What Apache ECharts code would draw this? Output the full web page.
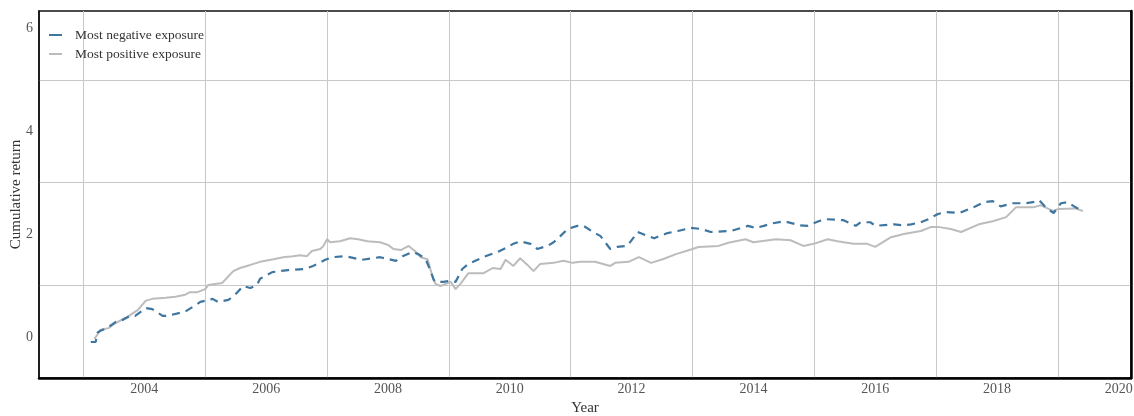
<!DOCTYPE html>
<html>
<head>
<meta charset="utf-8">
<script src="https://cdn.jsdelivr.net/npm/echarts@6/dist/echarts.min.js"></script>
<style>
html,body{margin:0;padding:0;background:#fff;}
#main{width:1134px;height:416px;}
</style>
</head>
<body>
<div id="main"></div>
<script>
// tick labels (even years / even values) and grid lines (odd ones)
var xLabelYears = [2004, 2006, 2008, 2010, 2012, 2014, 2016, 2018, 2020];
var xGridYears = [2003, 2005, 2007, 2009, 2011, 2013, 2015, 2017, 2019];
var yLabelValues = [0, 2, 4, 6];
var yGridValues = [1, 3, 5];

var seriesNames = ['Most negative exposure', 'Most positive exposure'];

// most negative exposure (blue dashed)
var negYears = [2003.12, 2003.20, 2003.23, 2003.28, 2003.39, 2003.53, 2003.64, 2003.77, 2003.85, 2004.02,
    2004.13, 2004.30, 2004.38, 2004.59, 2004.67, 2004.87, 2004.92, 2005.12, 2005.21, 2005.38,
    2005.49, 2005.62, 2005.74, 2005.85, 2005.90, 2006.10, 2006.36, 2006.64, 2006.77, 2006.97,
    2007.08, 2007.30, 2007.57, 2007.87, 2008.13, 2008.24, 2008.40, 2008.50, 2008.62, 2008.70,
    2008.75, 2008.78, 2008.91, 2009.03, 2009.11, 2009.22, 2009.32, 2009.49, 2009.60, 2009.80,
    2009.90, 2010.06, 2010.17, 2010.34, 2010.45, 2010.62, 2010.72, 2010.83, 2010.95, 2011.11,
    2011.21, 2011.37, 2011.49, 2011.65, 2011.76, 2011.93, 2012.10, 2012.23, 2012.37, 2012.59,
    2012.76, 2012.97, 2013.14, 2013.30, 2013.63, 2013.91, 2014.04, 2014.17, 2014.32, 2014.50,
    2014.77, 2014.89, 2015.07, 2015.18, 2015.48, 2015.68, 2015.76, 2015.92, 2016.00, 2016.31,
    2016.47, 2016.59, 2016.75, 2016.87, 2017.03, 2017.16, 2017.38, 2017.65, 2017.78, 2017.93,
    2018.06, 2018.26, 2018.47, 2018.59, 2018.69, 2018.80, 2018.93, 2019.05, 2019.16, 2019.29,
    2019.41];
var negValues = [-0.10, -0.10, 0.08, 0.12, 0.17, 0.29, 0.33, 0.41, 0.41, 0.56,
    0.54, 0.41, 0.41, 0.47, 0.49, 0.64, 0.68, 0.74, 0.68, 0.72,
    0.82, 0.99, 0.95, 1.01, 1.13, 1.26, 1.30, 1.32, 1.38, 1.50,
    1.55, 1.57, 1.50, 1.55, 1.48, 1.57, 1.65, 1.61, 1.51, 1.28,
    1.11, 1.07, 1.07, 1.09, 1.07, 1.32, 1.42, 1.51, 1.57, 1.65,
    1.71, 1.81, 1.86, 1.81, 1.71, 1.77, 1.84, 1.96, 2.10, 2.16,
    2.16, 2.04, 1.96, 1.71, 1.75, 1.77, 2.04, 1.98, 1.92, 2.02,
    2.06, 2.12, 2.10, 2.04, 2.06, 2.16, 2.12, 2.16, 2.21, 2.25,
    2.17, 2.16, 2.25, 2.29, 2.27, 2.16, 2.23, 2.23, 2.16, 2.19,
    2.17, 2.19, 2.23, 2.29, 2.39, 2.43, 2.41, 2.54, 2.62, 2.64,
    2.54, 2.60, 2.60, 2.62, 2.66, 2.52, 2.41, 2.60, 2.62, 2.52,
    2.45];

// most positive exposure (grey solid)
var posYears = [2003.18, 2003.28, 2003.41, 2003.53, 2003.72, 2003.89, 2004.02, 2004.13, 2004.35, 2004.51,
    2004.67, 2004.75, 2004.87, 2005.00, 2005.05, 2005.16, 2005.28, 2005.38, 2005.46, 2005.57,
    2005.74, 2005.90, 2006.12, 2006.28, 2006.44, 2006.56, 2006.67, 2006.75, 2006.89, 2006.94,
    2007.00, 2007.05, 2007.21, 2007.38, 2007.51, 2007.66, 2007.87, 2008.00, 2008.09, 2008.21,
    2008.34, 2008.44, 2008.54, 2008.65, 2008.72, 2008.78, 2008.86, 2008.95, 2009.03, 2009.11,
    2009.19, 2009.32, 2009.57, 2009.72, 2009.85, 2009.93, 2010.06, 2010.17, 2010.29, 2010.39,
    2010.50, 2010.72, 2010.88, 2011.03, 2011.16, 2011.40, 2011.65, 2011.73, 2011.95, 2012.12,
    2012.32, 2012.51, 2012.73, 2013.00, 2013.10, 2013.43, 2013.59, 2013.87, 2014.00, 2014.37,
    2014.61, 2014.82, 2014.99, 2015.22, 2015.38, 2015.64, 2015.87, 2016.00, 2016.26, 2016.47,
    2016.75, 2016.92, 2017.03, 2017.24, 2017.41, 2017.70, 2017.93, 2018.15, 2018.31, 2018.59,
    2018.72, 2018.92, 2019.01, 2019.29, 2019.41];
var posValues = [-0.04, 0.14, 0.17, 0.27, 0.39, 0.52, 0.70, 0.74, 0.76, 0.78,
    0.82, 0.87, 0.87, 0.93, 1.01, 1.03, 1.05, 1.18, 1.28, 1.34,
    1.40, 1.46, 1.51, 1.55, 1.57, 1.59, 1.57, 1.67, 1.71, 1.77,
    1.90, 1.84, 1.86, 1.92, 1.90, 1.86, 1.84, 1.79, 1.71, 1.69,
    1.77, 1.67, 1.55, 1.51, 1.22, 1.03, 0.99, 1.03, 1.07, 0.93,
    1.03, 1.24, 1.24, 1.34, 1.32, 1.50, 1.38, 1.53, 1.40, 1.28,
    1.42, 1.44, 1.48, 1.44, 1.46, 1.46, 1.38, 1.44, 1.46, 1.55,
    1.44, 1.51, 1.61, 1.71, 1.75, 1.77, 1.83, 1.90, 1.84, 1.90,
    1.88, 1.77, 1.81, 1.90, 1.86, 1.81, 1.81, 1.75, 1.94, 2.00,
    2.06, 2.14, 2.14, 2.10, 2.04, 2.19, 2.25, 2.33, 2.52, 2.52,
    2.56, 2.45, 2.49, 2.50, 2.45];

function pairs(xs, ys) {
    var res = [];
    for (var i = 0; i < xs.length; i++) {
        res.push([xs[i], ys[i]]);
    }
    return res;
}

var serif = '"Liberation Serif", "DejaVu Serif", serif';
var myChart = echarts.init(document.getElementById('main'));
var option = {
    animation: false,
    backgroundColor: '#fff',
    grid: {
        left: 39,
        right: 3,
        top: 11,
        bottom: 38,
        outerBoundsMode: 'none',
        containLabel: false,
        show: true,
        borderColor: '#111',
        borderWidth: 1.5
    },
    legend: {
        orient: 'vertical',
        left: 44,
        top: 23,
        itemGap: 5,
        itemWidth: 13,
        itemHeight: 2,
        icon: 'rect',
        data: seriesNames,
        textStyle: {
            fontFamily: serif,
            fontSize: 13.5,
            color: '#333',
            padding: [0, 0, 0, 8]
        }
    },
    xAxis: {
        type: 'value',
        min: 2002.27,
        max: 2020.2,
        name: 'Year',
        nameLocation: 'middle',
        nameGap: 23,
        nameMoveOverlap: false,
        nameTextStyle: {fontFamily: serif, fontSize: 15, color: '#333'},
        axisLine: {show: true, onZero: false, lineStyle: {color: '#000', width: 2.5}},
        axisTick: {show: false, customValues: xGridYears},
        axisLabel: {
            customValues: xLabelYears,
            formatter: function (v) { return String(v); },
            fontFamily: serif,
            fontSize: 14,
            color: '#555',
            margin: 4
        },
        splitLine: {show: true, lineStyle: {color: '#c8c8c8', width: 1}}
    },
    yAxis: [{
        type: 'value',
        min: -0.8,
        max: 6.34,
        name: 'Cumulative return',
        nameLocation: 'middle',
        nameGap: 15,
        nameMoveOverlap: false,
        nameTextStyle: {fontFamily: serif, fontSize: 15, color: '#333'},
        axisLine: {show: true, lineStyle: {color: '#111', width: 1.5}},
        axisTick: {show: false, customValues: yGridValues},
        axisLabel: {
            customValues: yLabelValues,
            fontFamily: serif,
            fontSize: 14,
            color: '#555',
            margin: 6
        },
        splitLine: {show: true, lineStyle: {color: '#c8c8c8', width: 1}}
    }, {
        type: 'value',
        position: 'right',
        min: -0.8,
        max: 6.34,
        axisLine: {show: true, lineStyle: {color: '#000', width: 2.5}},
        axisTick: {show: false},
        axisLabel: {show: false},
        splitLine: {show: false}
    }],
    series: [
        {
            name: seriesNames[0],
            type: 'line',
            data: pairs(negYears, negValues),
            showSymbol: false,
            z: 3,
            color: '#3f76a0',
            lineStyle: {color: '#3f76a0', width: 2.2, type: [8, 6]}
        },
        {
            name: seriesNames[1],
            type: 'line',
            data: pairs(posYears, posValues),
            showSymbol: false,
            z: 2,
            color: '#bcbcbc',
            lineStyle: {color: '#bcbcbc', width: 2}
        }
    ]
};
myChart.setOption(option);
</script>
</body>
</html>
